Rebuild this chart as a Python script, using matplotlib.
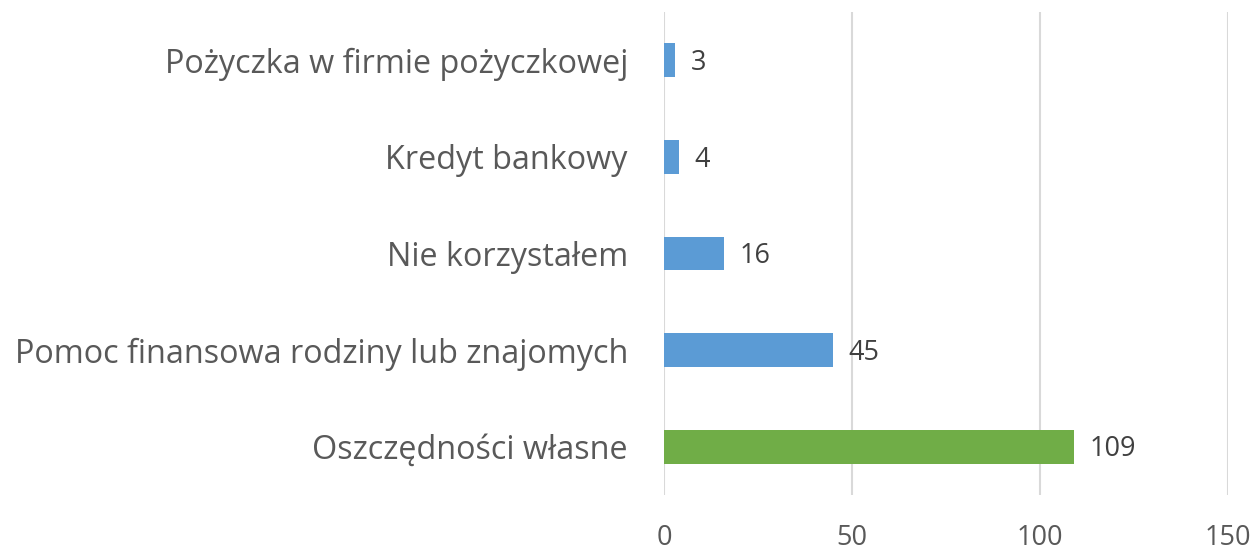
import matplotlib
matplotlib.use("Agg")
import matplotlib.pyplot as plt

categories = ["Oszczędności własne", "Pomoc finansowa rodziny lub znajomych",
              "Nie korzystałem", "Kredyt bankowy", "Pożyczka w firmie pożyczkowej"]
values = [109, 45, 16, 4, 3]
colors = ["#70AD47", "#5B9BD5", "#5B9BD5", "#5B9BD5", "#5B9BD5"]
xticks = [0, 50, 100, 150]

plt.rcParams['font.family'] = ['Open Sans', 'DejaVu Sans']

fig = plt.figure(figsize=(12.55, 5.51), dpi=100)
ax = fig.add_axes([664/1255, 1-495/551, 564/1255, 483/551])

y = list(range(len(categories)))
ax.barh(y, values, height=0.35, color=colors, zorder=3)
for yi, v in zip(y, values):
    ax.annotate(str(v), (v, yi), xytext=(11, -2), textcoords='offset points',
                va='center', ha='left', fontsize=19.5, color='#404040')

ax.set_xlim(0, 150)
ax.set_ylim(-0.5, len(categories) - 0.5)
ax.set_xticks(xticks)
ax.set_xticklabels([str(t) for t in xticks], fontsize=19.5, color='#595959')
ax.set_yticks(y)
ax.set_yticklabels(categories, fontsize=23.3, color='#595959')
ax.tick_params(axis='x', length=0, pad=21)
ax.tick_params(axis='y', length=0, pad=26)
ax.grid(axis='x', color='#D9D9D9', linewidth=1.5, zorder=0)
for s in ax.spines.values():
    s.set_visible(False)

fig.savefig("out.png", dpi=100)
